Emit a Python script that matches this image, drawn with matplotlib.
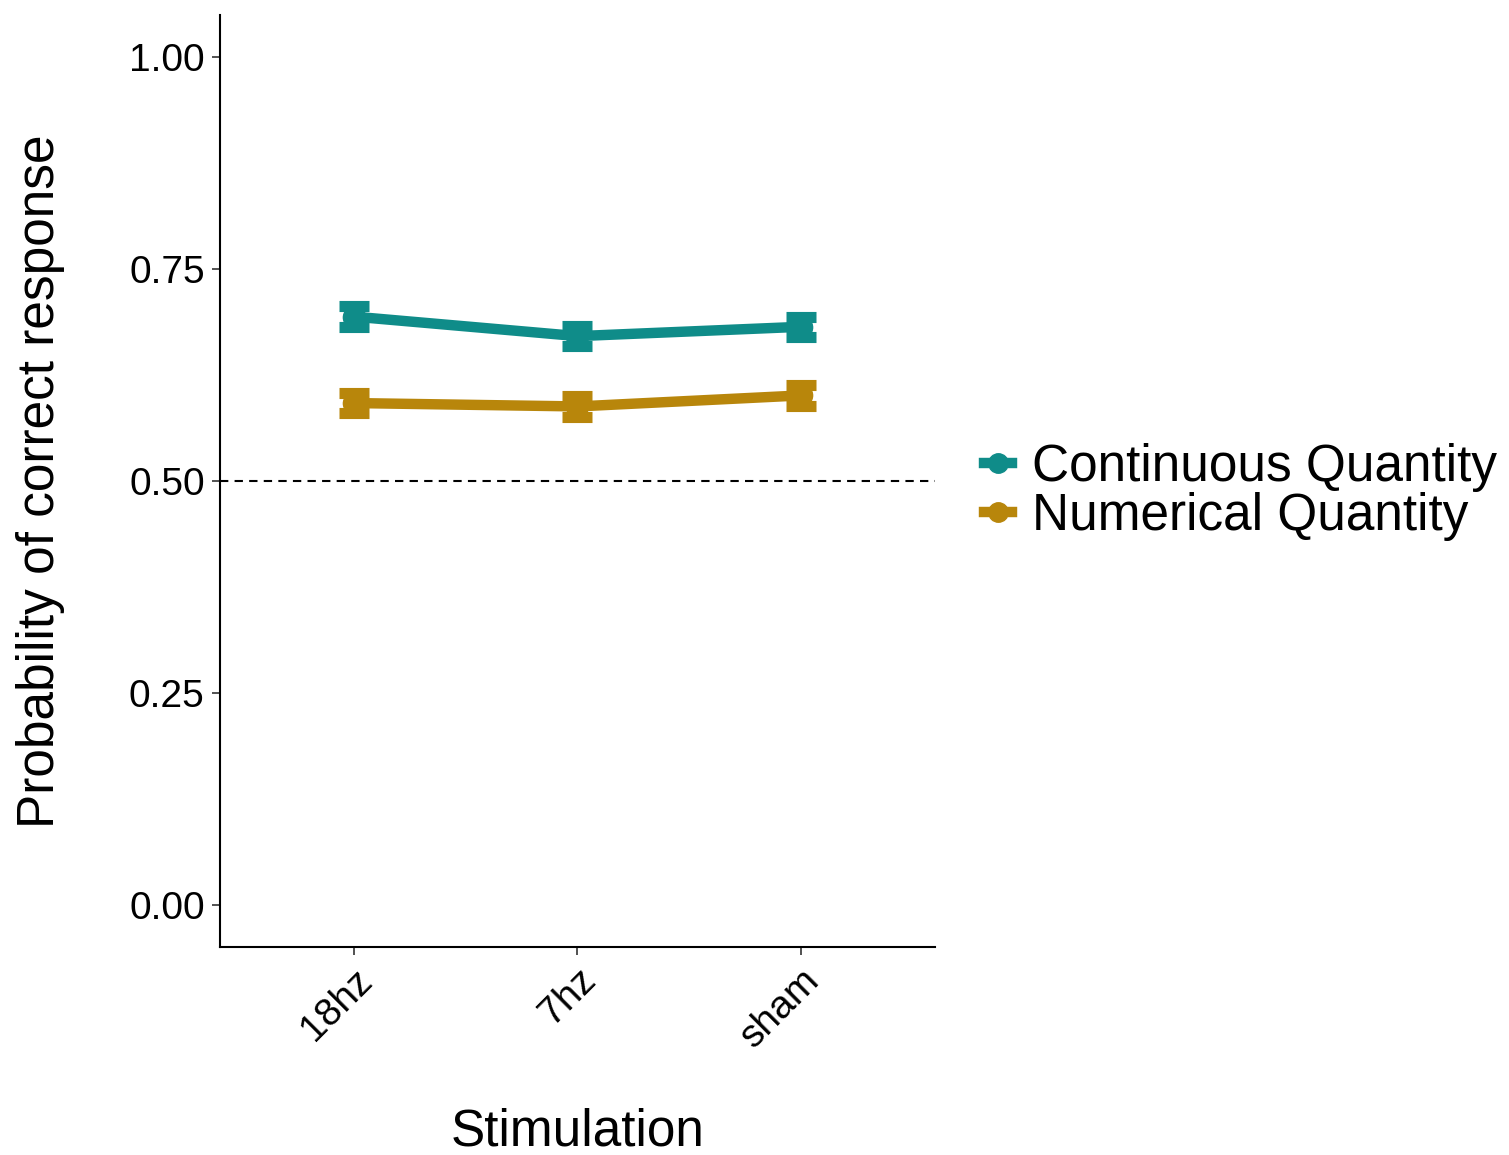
import numpy as np
import matplotlib.pyplot as plt
from matplotlib.lines import Line2D

stimulation = ['18hz', '7hz', 'sham']
continuous = [0.694, 0.671, 0.682]
continuous_se = [0.012, 0.012, 0.012]
numerical = [0.592, 0.588, 0.601]
numerical_se = [0.012, 0.012, 0.012]
series_names = ['Continuous Quantity', 'Numerical Quantity']
colors = ['#0F8C89', '#B8860B']

plt.rcParams['font.family'] = ['Liberation Sans', 'DejaVu Sans']

fig = plt.figure(figsize=(15.09, 11.55), dpi=100)
ax = fig.add_axes([0.1458, 0.1801, 0.4738, 0.8069])

x = np.arange(len(stimulation))
for vals, se, col in [(continuous, continuous_se, colors[0]), (numerical, numerical_se, colors[1])]:
    ax.errorbar(x, vals, yerr=se, color=col, lw=7.5, elinewidth=8, capsize=11,
                capthick=8, marker='o', ms=16, zorder=3)

ax.axhline(0.5, color='black', lw=1.5, ls=(0, (4, 3)), zorder=1)

ax.set_xlim(-0.6, 2.6)
ax.set_ylim(-0.05, 1.05)
ax.set_xticks(x)
ax.set_xticklabels(stimulation, rotation=45, ha='right', rotation_mode='anchor')
ax.set_yticks([0, 0.25, 0.5, 0.75, 1.0])
ax.set_yticklabels(['0.00', '0.25', '0.50', '0.75', '1.00'])
ax.tick_params(labelsize=28, length=6, width=1.2, color='#333333', pad=5)
for s in ['top', 'right']:
    ax.spines[s].set_visible(False)
for s in ['left', 'bottom']:
    ax.spines[s].set_linewidth(1.5)

ax.set_xlabel('Stimulation', fontsize=37, labelpad=38)
ax.set_ylabel('Probability of correct response', fontsize=37, labelpad=46)

handles = [Line2D([], [], color=c, lw=7.5, marker='o', ms=14) for c in colors]
fig.legend(handles, series_names, loc='center left', bbox_to_anchor=(0.648 - 20 / 1509, 0.574),
           frameon=False, fontsize=37, handlelength=0.55, handletextpad=0.4,
           labelspacing=0.0, borderpad=0)

fig.savefig('out.png', dpi=100)
